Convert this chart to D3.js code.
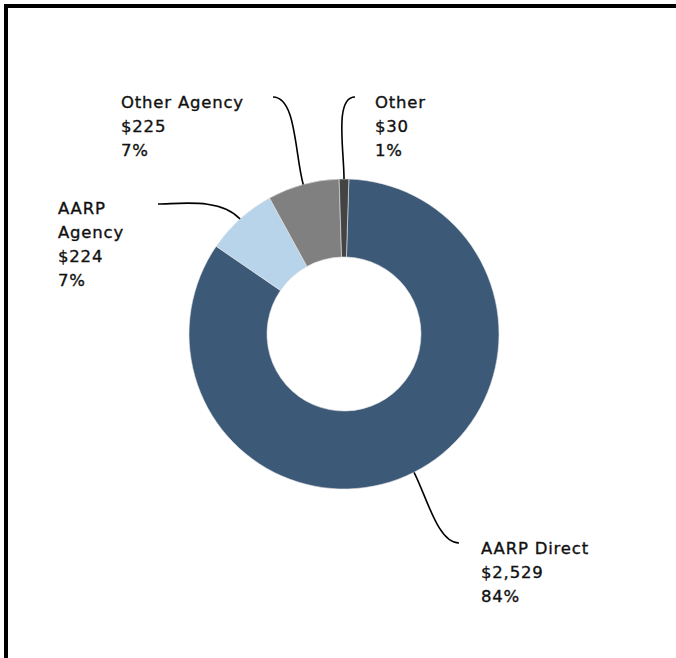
<!DOCTYPE html>
<html>
<head>
<meta charset="utf-8">
<script src="https://cdn.jsdelivr.net/npm/d3@7"></script>
<style>
  html, body { margin: 0; padding: 0; background: #fff; }
  svg { display: block; }
  text { font-family: "DejaVu Sans", sans-serif; font-size: 16.5px; letter-spacing: 0.8px; fill: #111; stroke: #111; stroke-width: 0.35px; }
</style>
</head>
<body>
<svg id="chart" width="676" height="658"></svg>
<script>
// ---- data ----
const categories = ["AARP Direct", "AARP Agency", "Other Agency", "Other"];
const values = [2529, 224, 225, 30];
const valueLabels = ["$2,529", "$224", "$225", "$30"];
const percentLabels = ["84%", "7%", "7%", "1%"];
const colors = ["#3c5a78", "#b8d4ea", "#808080", "#444444"];

// ---- layout (not data) ----
const W = 676, H = 658;
const cx = 344, cy = 334;
const outerR = 155, innerR = 77;
const startOffset = 1.8 * Math.PI / 180;
// label anchor: text x, first baseline y, leader end point, name lines
const labelLayout = {
  "AARP Direct":  { tx: 481, ty: 554, ex: 459, ey: 543, lines: ["AARP Direct"] },
  "AARP Agency":  { tx: 58,  ty: 214, ex: 158, ey: 204, lines: ["AARP", "Agency"] },
  "Other Agency": { tx: 121, ty: 108, ex: 273, ey: 97,  lines: ["Other Agency"] },
  "Other":        { tx: 375, ty: 108, ex: 355, ey: 97,  lines: ["Other"] }
};
const lineH = 24;

const svg = d3.select("#chart");

// frame
svg.append("path")
  .attr("d", `M6,${H} V6 H${W}`)
  .attr("fill", "none")
  .attr("stroke", "#000")
  .attr("stroke-width", 4);

const data = categories.map((c, i) => ({ cat: c, value: values[i], vl: valueLabels[i], pl: percentLabels[i], color: colors[i] }));

const pie = d3.pie().value(d => d.value).sort(null)
  .startAngle(startOffset).endAngle(startOffset + 2 * Math.PI);
const arcs = pie(data);
const arc = d3.arc().innerRadius(innerR).outerRadius(outerR);

const g = svg.append("g").attr("transform", `translate(${cx},${cy})`);
g.selectAll("path.slice").data(arcs).join("path")
  .attr("class", "slice")
  .attr("d", arc)
  .attr("fill", d => d.data.color)
  .attr("stroke", "#e6e6e6")
  .attr("stroke-width", 0.6);

// leaders + labels
arcs.forEach(a => {
  const L = labelLayout[a.data.cat];
  const mid = (a.startAngle + a.endAngle) / 2;
  const dx = Math.sin(mid), dy = -Math.cos(mid);
  const p0x = cx + outerR * dx, p0y = cy + outerR * dy;
  const dist = Math.hypot(L.ex - p0x, L.ey - p0y);
  const dir = (p0x > L.ex) ? 1 : -1; // horizontal direction toward pie from label end
  const p = d3.path();
  p.moveTo(p0x, p0y);
  p.bezierCurveTo(p0x + dx * dist * 0.35, p0y + dy * dist * 0.35,
                  L.ex + dir * dist * 0.25, L.ey,
                  L.ex, L.ey);
  svg.append("path").attr("d", p.toString())
    .attr("fill", "none").attr("stroke", "#000").attr("stroke-width", 1.6);

  const lines = L.lines.concat([a.data.vl, a.data.pl]);
  const t = svg.append("text").attr("x", L.tx).attr("y", L.ty);
  lines.forEach((s, i) => {
    t.append("tspan").attr("x", L.tx).attr("y", L.ty + i * lineH).text(s);
  });
});
</script>
</body>
</html>
